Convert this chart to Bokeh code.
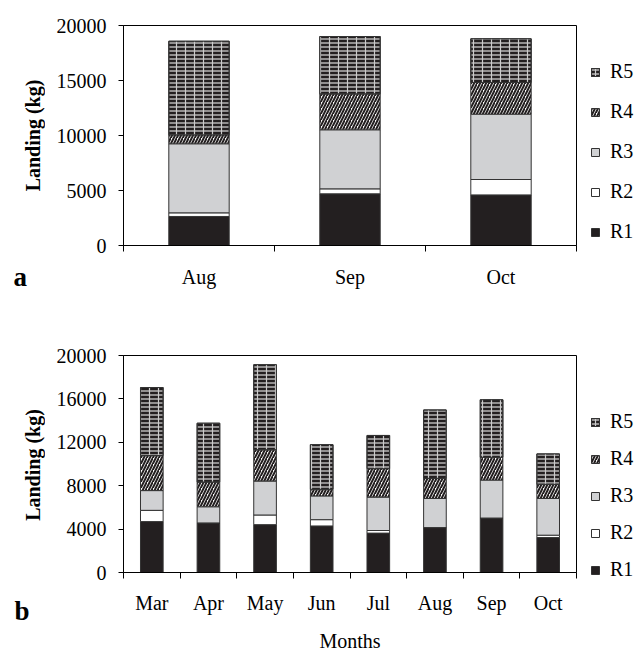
import math
from bokeh.plotting import figure
from bokeh.models import FixedTicker, Legend, LegendItem, Range1d, ColumnDataSource
from bokeh.core.properties import value
from bokeh.layouts import column, row
from bokeh.embed import file_html
from bokeh.resources import INLINE

# ---------------- data ----------------
series = ["R1", "R2", "R3", "R4", "R5"]

months_a = ["Aug", "Sep", "Oct"]
r1_a = [2640, 4700, 4600]
r2_a = [330, 450, 1400]
r3_a = [6280, 5370, 5940]
r4_a = [810, 3270, 2880]
r5_a = [8510, 5210, 3970]
yticks_a = [0, 5000, 10000, 15000, 20000]

months_b = ["Mar", "Apr", "May", "Jun", "Jul", "Aug", "Sep", "Oct"]
r1_b = [4690, 4570, 4410, 4290, 3630, 4140, 5020, 3220]
r2_b = [1040, 0, 890, 580, 240, 0, 0, 220]
r3_b = [1820, 1490, 3130, 2190, 3080, 2680, 3500, 3380]
r4_b = [3230, 2280, 2890, 610, 2620, 1860, 2100, 1310]
r5_b = [6270, 5420, 7830, 4110, 3060, 6300, 5300, 2800]
yticks_b = [0, 4000, 8000, 12000, 16000, 20000]

FONT = "Liberation Serif"
H_A, H_B = 320, 334

STACK_STYLE = dict(
    fill_color=["#231f20", "white", "#d0d1d3", "white", "#231f20"],
    line_color="#333333", line_width=1,
    hatch_pattern=[None, None, None, "/", "-"],
    hatch_color=["black", "black", "black", "#231f20", "white"],
    hatch_weight=[1, 1, 1, 2, 1],
    hatch_scale=[6, 6, 6, 6, 4],
)
OVER_STYLE = dict(fill_alpha=0, line_color="#333333", line_width=1,
                  hatch_pattern="|", hatch_color="#cccccc", hatch_weight=1.2, hatch_scale=9)


def draw_bars(p, src, width):
    rs = p.vbar_stack(series, x="x", width=width, source=src, **STACK_STYLE)
    ov = p.vbar(x="x", width=width, bottom="b5", top="t5", source=src, **OVER_STYLE)
    return rs, ov


def make_source(months, values):
    data = {"x": [i + 0.5 for i in range(len(months))]}
    for s, v in zip(series, values):
        data[s] = v
    data["b5"] = [sum(vals) for vals in zip(*values[:4])]
    data["t5"] = [sum(vals) for vals in zip(*values)]
    return ColumnDataSource(data)


def panel(months, src, yticks, height, top, bottom, xlabel, tick_standoff, label_standoff):
    n = len(months)
    x = [i + 0.5 for i in range(n)]
    p = figure(width=532, height=height, output_backend="svg", toolbar_location=None,
               x_range=Range1d(0, n), y_range=Range1d(0, yticks[-1]),
               min_border_left=78, min_border_right=1, min_border_top=top,
               min_border_bottom=bottom)
    p.xgrid.visible = False
    p.ygrid.visible = False
    p.outline_line_color = "black"
    p.outline_line_width = 1
    draw_bars(p, src, 0.4)

    xa = p.xaxis[0]
    xa.ticker = FixedTicker(ticks=x, minor_ticks=list(range(n + 1)))
    xa.major_label_overrides = {xi: m for xi, m in zip(x, months)}
    xa.major_tick_out = 0
    xa.major_tick_in = 0
    xa.minor_tick_out = 6
    xa.minor_tick_in = 0
    xa.minor_tick_line_color = "black"
    xa.axis_line_color = "black"
    xa.major_label_standoff = tick_standoff
    xa.major_label_text_font = FONT
    xa.major_label_text_font_size = "20px"
    xa.major_label_text_color = "black"
    if xlabel:
        xa.axis_label = xlabel
        xa.axis_label_text_font = FONT
        xa.axis_label_text_font_style = "normal"
        xa.axis_label_text_font_size = "20px"
        xa.axis_label_text_color = "black"
        xa.axis_label_standoff = label_standoff

    ya = p.yaxis[0]
    ya.ticker = FixedTicker(ticks=yticks)
    ya.major_tick_out = 5
    ya.major_tick_in = 0
    ya.minor_tick_out = 0
    ya.minor_tick_in = 0
    ya.axis_line_color = "black"
    ya.major_tick_line_color = "black"
    ya.major_label_standoff = 12
    ya.major_label_text_font = FONT
    ya.major_label_text_font_size = "20px"
    ya.major_label_text_color = "black"
    return p


src_a = make_source(months_a, [r1_a, r2_a, r3_a, r4_a, r5_a])
src_b = make_source(months_b, [r1_b, r2_b, r3_b, r4_b, r5_b])

pa = panel(months_a, src_a, yticks_a, H_A, 25, 75, None, 14, 0)
pb = panel(months_b, src_b, yticks_b, H_B, 35, 80, "Months", 13, 13)

HT = H_A + H_B

# ---- left strip: y-axis titles and panel letters (pixel coordinates from the top) ----
lf = figure(width=45, height=HT, output_backend="svg", toolbar_location=None,
            x_range=Range1d(0, 45), y_range=Range1d(HT, 0),
            x_axis_location=None, y_axis_location=None,
            min_border_left=0, min_border_right=0, min_border_top=0, min_border_bottom=0)
lf.outline_line_color = None
lf.grid.visible = False
ylab_y = [25 + (H_A - 25 - 75) / 2, H_A + 35 + (H_B - 35 - 80) / 2]
lf.text(x=[32, 32], y=ylab_y, text=["Landing (kg)", "Landing (kg)"], angle=math.pi / 2,
        text_align="center", text_baseline="middle", text_font=value(FONT),
        text_font_style="bold", text_font_size="20px", text_color="black")
lf.text(x=[13, 14], y=[276, H_A + 290], text=["a", "b"], text_align="left",
        text_baseline="alphabetic", text_font=value(FONT),
        text_font_style="bold", text_font_size="27px", text_color="black")

# ---- right strip: legends (glyphs drawn from the same sources, off-range) ----
gf = figure(width=59, height=HT, output_backend="svg", toolbar_location=None,
            x_range=Range1d(-101, -100), y_range=Range1d(0, 1),
            x_axis_location=None, y_axis_location=None,
            min_border_left=0, min_border_right=0, min_border_top=0, min_border_bottom=0)
gf.outline_line_color = None
gf.grid.visible = False


def add_legend(src, bottom_from_canvas_bottom, spacing):
    rs, ov = draw_bars(gf, src, 0.4)
    items = [LegendItem(label=s, renderers=[r]) for s, r in zip(series, rs)]
    items[4] = LegendItem(label="R5", renderers=[rs[4], ov])
    leg = Legend(items=items[::-1], location=(13, bottom_from_canvas_bottom),
                 orientation="vertical", glyph_width=10, glyph_height=10,
                 label_standoff=10, spacing=spacing, padding=0, margin=0,
                 border_line_color=None, background_fill_alpha=0,
                 label_text_font=FONT, label_text_font_size="20px",
                 label_text_color="black")
    gf.add_layout(leg, "center")


add_legend(src_a, HT - 243, 17)
add_legend(src_b, HT - 581, 14)

layout = row(lf, column(pa, pb, spacing=0), gf, spacing=0)
open("out.html", "w").write(file_html(layout, INLINE))
